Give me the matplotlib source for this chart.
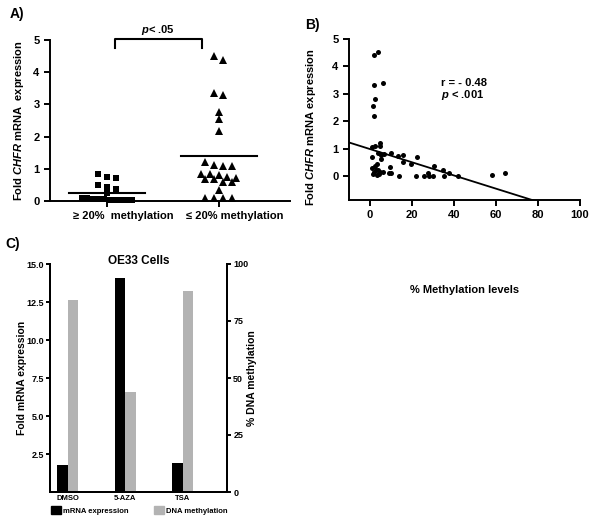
import numpy as np
import matplotlib
matplotlib.use('Agg')
import matplotlib.pyplot as plt
from matplotlib.patches import Patch
from matplotlib.transforms import ScaledTranslation

plt.rcParams['font.family'] = ['Liberation Sans', 'DejaVu Sans']
plt.rcParams['font.weight'] = 'bold'
plt.rcParams['axes.labelweight'] = 'bold'
plt.rcParams['mathtext.fontset'] = 'custom'
plt.rcParams['mathtext.it'] = 'Liberation Sans:italic:bold'
plt.rcParams['mathtext.rm'] = 'Liberation Sans:bold'

# Panel A: fold CHFR expression by methylation group
group_labels = ['\u2265 20%  methylation', '\u2264 20% methylation']
high_meth = [0.84, 0.73, 0.70, 0.50, 0.45, 0.38, 0.26,
             0.10, 0.08, 0.06, 0.05, 0.05, 0.04, 0.03, 0.03, 0.02, 0.02]
low_meth = [4.50, 4.38, 3.36, 3.29, 2.77, 2.55, 2.18,
            1.22, 1.12, 1.09, 1.09,
            0.84, 0.84, 0.81, 0.74, 0.70, 0.67, 0.67, 0.60, 0.60,
            0.33, 0.08, 0.08, 0.08, 0.08]

# Panel B: % methylation vs fold expression
meth_pct = [1.7, 3.6, 1.7, 6.3, 2.4, 1.4, 1.9,
            0.8, 2.4, 4.6, 4.8, 0.8, 3.6, 5.2, 6.8, 5.2, 3.3, 2.4, 1.1,
            4.0, 2.1, 4.9, 6.0, 1.6, 3.3, 4.1, 3.0,
            10.0, 13.5, 15.5, 15.8, 19.5, 22.2, 9.4, 8.9, 10.0, 13.6,
            21.9, 25.8, 27.4, 28.2, 29.8, 30.6, 34.9, 35.3, 37.4, 41.7,
            58.0, 64.2]
fold_expr = [4.40, 4.52, 3.33, 3.41, 2.80, 2.55, 2.20,
             1.06, 1.09, 1.11, 1.22, 0.70, 0.84, 0.78, 0.79, 0.60, 0.45,
             0.37, 0.29, 0.21, 0.15, 0.15, 0.15, 0.06, 0.02, 0.06, 0.23,
             0.82, 0.73, 0.78, 0.49, 0.45, 0.70, 0.33, 0.09, 0.09, 0.00,
             0.00, 0.00, 0.09, 0.00, 0.00, 0.37, 0.23, 0.00, 0.09, 0.00,
             0.05, 0.10]
fit_intercept = 0.98
fit_slope = -0.0241

# Panel C: OE33 cells
treatments = ['DMSO', '5-AZA', 'TSA']
mrna_fold = [1.8, 14.1, 1.9]
dna_meth = [84, 44, 88]

W, H = 600, 520
fig = plt.figure(figsize=(W / 100, H / 100), dpi=100)


def px_axes(left, top, right, bottom):
    return fig.add_axes([left / W, 1 - bottom / H, (right - left) / W, (bottom - top) / H])


def style(ax, right=False):
    ax.spines['top'].set_visible(False)
    if not right:
        ax.spines['right'].set_visible(False)
    for s in ax.spines.values():
        s.set_linewidth(1.4)
    ax.tick_params(direction='out', length=4, width=1.4, labelsize=8)


def swarm_offsets(vals, row_h=0.15, step=0.08, max_w=0.5):
    vals = np.asarray(vals)
    order = np.argsort(vals)[::-1]
    offs = np.zeros(len(vals))
    rows = []
    for i in order:
        if rows and rows[-1][0] - vals[i] <= row_h:
            rows[-1][1].append(i)
        else:
            rows.append([vals[i], [i]])
    for _, idx in rows:
        n = len(idx)
        d = min(step, max_w / n)
        for k, i in enumerate(idx):
            offs[i] = (k - (n - 1) / 2) * d
    return offs


# ---- A ----
axA = px_axes(50, 40, 290, 201)
style(axA)
for pos, vals, mk, ms in [(0, high_meth, 's', 5.0), (1, low_meth, '^', 5.6)]:
    xs = pos + swarm_offsets(vals)
    axA.plot(xs, vals, mk, color='black', ms=ms, mew=0, clip_on=False, zorder=3)
    m = np.mean(vals)
    axA.plot([pos - 0.34, pos + 0.34], [m, m], color='black', lw=1.5)
axA.set_xlim(-0.51, 1.64)
axA.set_ylim(0, 5)
axA.set_yticks(range(6))
axA.set_xticks([0, 1])
axA.set_xticklabels(group_labels)
off = ScaledTranslation(16 / 100, 0, fig.dpi_scale_trans)
for lab in axA.get_xticklabels():
    lab.set_transform(lab.get_transform() + off)
axA.set_ylabel('Fold $\\mathit{CHFR}$ mRNA  expression', fontsize=8)
axA.yaxis.set_label_coords(-0.1, 0.5)
axA.plot([0.07, 0.07, 0.85, 0.85], [4.75, 5.03, 5.03, 4.75], color='black', lw=1.5, clip_on=False)
axA.text(0.46, 5.1, '$p$< .05', ha='center', va='bottom', fontsize=8)
fig.text(10 / W, 1 - 14 / H, 'A)', fontsize=10, va='center', ha='left')

# ---- B ----
axB = px_axes(349, 39, 580, 200)
style(axB)
axB.plot(meth_pct, fold_expr, 'o', color='black', ms=3.6, mew=0, clip_on=False)
xl = np.array([-10, 100])
axB.plot(xl, fit_intercept + fit_slope * xl, color='black', lw=1.3)
axB.set_xlim(-10, 100)
axB.set_ylim(-0.88, 5)
axB.set_xticks(range(0, 101, 20))
axB.set_yticks(range(6))
axB.set_ylabel('Fold $\\mathit{CHFR}$ mRNA expression', fontsize=8)
axB.yaxis.set_label_coords(-0.135, 0.45)
axB.set_xlabel('% Methylation levels', fontsize=8)
axB.xaxis.set_label_coords(0.5, -0.53)
axB.text(34, 3.4, 'r = - 0.48', fontsize=8, va='center')
axB.text(34, 2.95, '$p$ < .001', fontsize=8, va='center')
fig.text(305 / W, 1 - 25 / H, 'B)', fontsize=10, va='center', ha='left')

# ---- C ----
axC = px_axes(50, 264, 227, 492)
style(axC, right=True)
x = np.arange(len(treatments))
bw = 0.18
axC.bar(x - bw / 2, mrna_fold, bw, color='black', label='mRNA expression')
axC2 = axC.twinx()
axC2.bar(x + bw / 2, dna_meth, bw, color='#b3b3b3', label='DNA methylation')
axC2.set_ylim(0, 100)
axC2.set_yticks(range(0, 101, 25))
axC2.spines['top'].set_visible(False)
for s in axC2.spines.values():
    s.set_linewidth(1.4)
axC2.tick_params(direction='out', length=3, width=1.4, pad=1.5, labelsize=6.5)
axC2.set_ylabel('% DNA methylation', fontsize=7.5)
axC2.yaxis.set_label_coords(1.115, 0.5)
axC.set_xlim(-0.31, 2.77)
axC.set_ylim(0, 15)
yt = [2.5, 5, 7.5, 10, 12.5, 15]
axC.set_yticks(yt)
axC.set_yticklabels(['%.1f' % v for v in yt])
axC.tick_params(axis='y', length=3, pad=1.5, labelsize=6.5)
axC.set_xticks(x)
axC.set_xticklabels(treatments, fontsize=5.5)
axC.tick_params(axis='x', length=0, pad=2)
axC.set_ylabel('Fold mRNA expression', fontsize=7.5)
axC.yaxis.set_label_coords(-0.13, 0.5)
axC.text(0.5, 1.013, 'OE33 Cells', transform=axC.transAxes, ha='center', va='center',
         fontsize=8.5)
axC.legend(handles=[Patch(color='black', label='mRNA expression'),
                    Patch(color='#b3b3b3', label='DNA methylation')],
           loc='upper center', bbox_to_anchor=(0.503, -0.045), ncol=2, frameon=False,
           fontsize=5.5, handlelength=1.3, handleheight=1.2, handletextpad=0.3,
           columnspacing=3.3, borderpad=0)
fig.text(5 / W, 1 - 244 / H, 'C)', fontsize=10, va='center', ha='left')

fig.savefig('out.png', dpi=100)
